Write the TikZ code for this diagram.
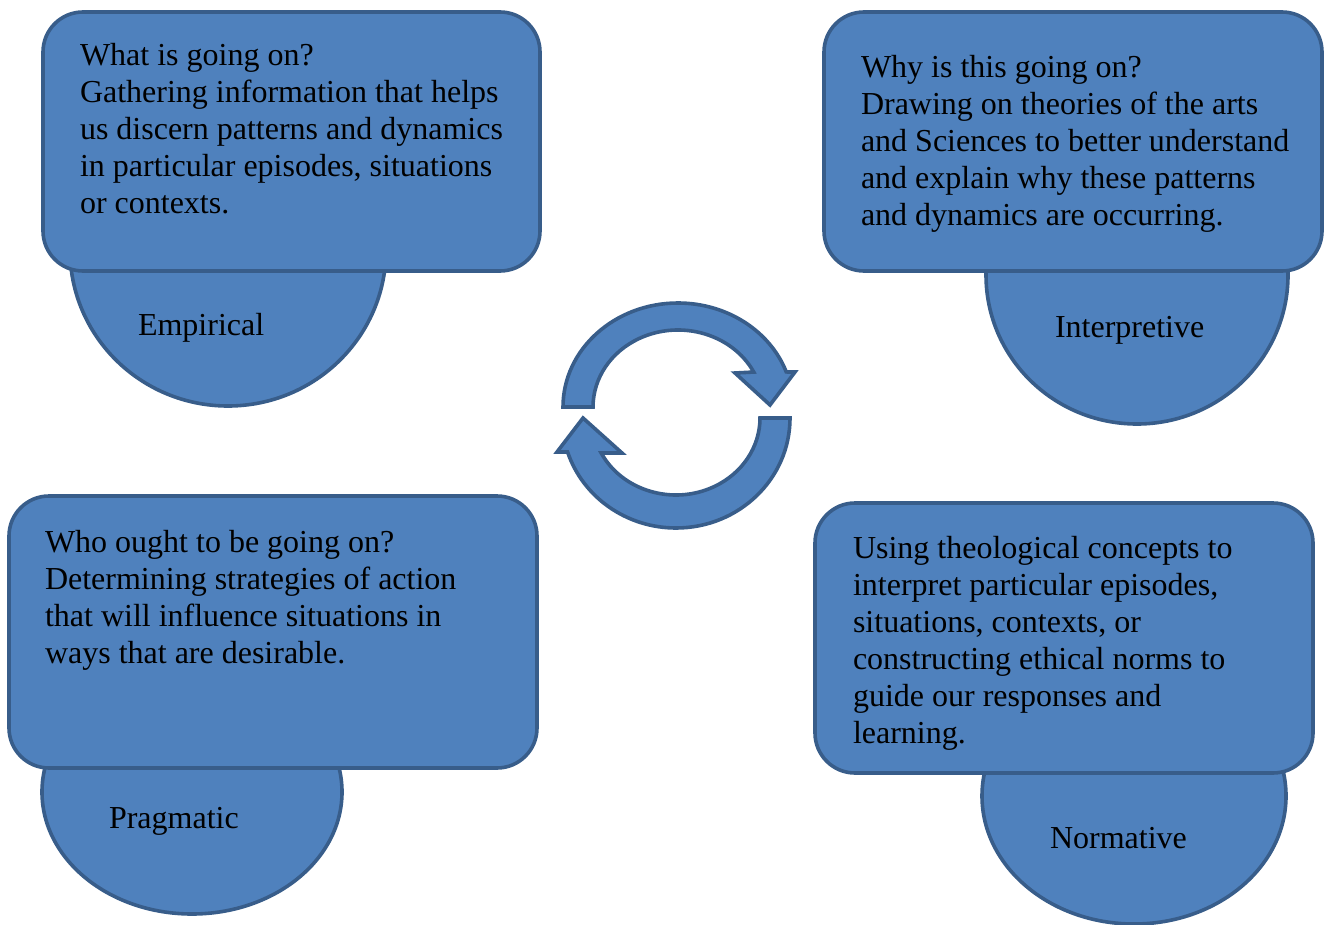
\documentclass[tikz,border=0pt]{standalone}
\usepackage{fontspec}
\setmainfont{Liberation Serif}
\usetikzlibrary{shapes.geometric}
\definecolor{bfill}{HTML}{4F81BD}
\definecolor{bline}{HTML}{385D8A}
\tikzset{
  shapesty/.style={fill=bfill, draw=bline, line width=3.6pt},
  ell/.style={shapesty, ellipse, inner sep=0pt, outer sep=0pt},
  box/.style={shapesty, rectangle, rounded corners=40pt, inner sep=0pt, outer sep=0pt},
  txt/.style={anchor=base west, inner sep=0pt, outer sep=0pt, font=\fontsize{32}{37}\selectfont},
  cyc/.style={shapesty, line join=miter}
}
\begin{document}
\begin{tikzpicture}[x=1pt, y=-1pt]
\useasboundingbox (0,0) rectangle (1324,925);
% ellipses behind the boxes
\node[ell, minimum width=316pt, minimum height=312pt] (e1) at (228,250) {};
\node[ell, minimum width=302pt, minimum height=298pt] (e2) at (1137,275) {};
\node[ell, minimum width=300pt, minimum height=244pt] (e3) at (192,792) {};
\node[ell, minimum width=304pt, minimum height=256pt] (e4) at (1134,796) {};
% boxes
\node[box, minimum width=497pt, minimum height=259pt] (b1) at (291.5,141.5) {};
\node[box, minimum width=498pt, minimum height=259pt] (b2) at (1073,141.5) {};
\node[box, minimum width=528pt, minimum height=272pt] (b3) at (273,632) {};
\node[box, minimum width=498pt, minimum height=270pt] (b4) at (1064,638) {};
% box texts
\node[txt] (t1) at (80,66) {\parbox[t]{470pt}{\raggedright What is going on?\\Gathering information that helps\\us discern patterns and dynamics\\in particular episodes, situations\\or contexts.}};
\node[txt] (t2) at (861,78) {\parbox[t]{460pt}{\raggedright Why is this going on?\\Drawing on theories of the arts\\and Sciences to better understand\\and explain why these patterns\\and dynamics are occurring.}};
\node[txt] (t3) at (45,552) {\parbox[t]{480pt}{\raggedright Who ought to be going on?\\Determining strategies of action\\that will influence situations in\\ways that are desirable.}};
\node[txt] (t4) at (853,558) {\parbox[t]{450pt}{\raggedright Using theological concepts to\\interpret particular episodes,\\situations, contexts, or\\constructing ethical norms to\\guide our responses and\\learning.}};
% labels
\node[txt] (l1) at (138,335) {Empirical};
\node[txt] (l2) at (1055,337) {Interpretive};
\node[txt] (l3) at (109,828) {Pragmatic};
\node[txt] (l4) at (1050,848) {Normative};
% cycle arrows
\coordinate (ct) at (678,407);
\coordinate (cb) at (676,418);
\draw[cyc] ([shift={(180:115 and 104)}]ct) arc[start angle=180, end angle=340.3, x radius=115, y radius=104]
  -- (795,372) -- (770,405) -- (735,373)
  -- ([shift={(333:85 and 77)}]ct) arc[start angle=333, end angle=180, x radius=85, y radius=77] -- cycle;
\draw[cyc] ([shift={(0:114 and 110)}]cb) arc[start angle=0, end angle=162, x radius=114, y radius=110]
  -- (557,452) -- (583,418) -- (622,453)
  -- ([shift={(153:84 and 77)}]cb) arc[start angle=153, end angle=0, x radius=84, y radius=77] -- cycle;
\end{tikzpicture}
\end{document}
